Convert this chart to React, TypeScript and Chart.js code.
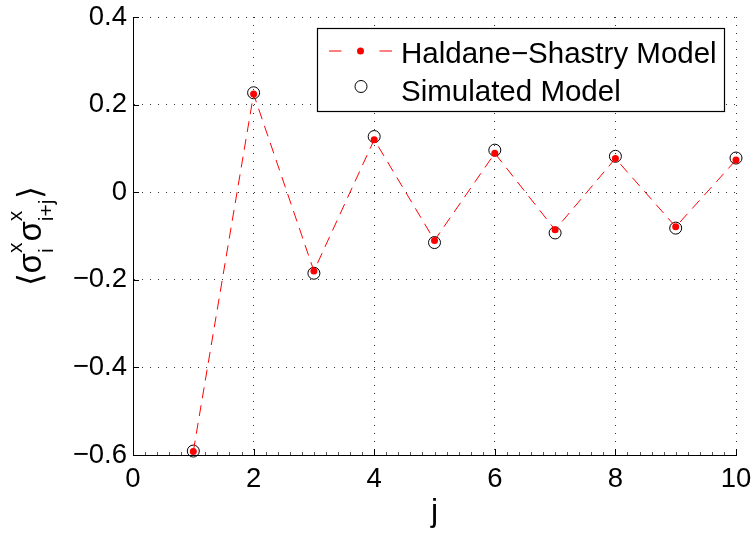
import React, { useEffect, useRef } from 'react';
import { Chart, registerables } from 'chart.js';

Chart.register(...registerables);

// ---- data ----
const jValues = [1, 2, 3, 4, 5, 6, 7, 8, 9, 10];
const haldaneShastry = [-0.592, 0.224, -0.180, 0.120, -0.110, 0.089, -0.086, 0.077, -0.079, 0.0735];
const simulated = [-0.591, 0.227, -0.185, 0.127, -0.115, 0.096, -0.093, 0.082, -0.082, 0.078];
const seriesLabels = ['Haldane\u2212Shastry Model', 'Simulated Model'];

const xTicks = [0, 2, 4, 6, 8, 10];
const xTickLabels = ['0', '2', '4', '6', '8', '10'];
const yTicks = [-0.6, -0.4, -0.2, 0, 0.2, 0.4];
const yTickLabels = ['\u22120.6', '\u22120.4', '\u22120.2', '0', '0.2', '0.4'];
const xTitle = 'j';
// y title: ⟨σ^x_i σ^x_{i+j}⟩
const yTitleParts = [
  { main: '\u27E8' },
  { main: '\u03C3' },
  { sup: 'x', sub: 'i' },
  { main: '\u03C3' },
  { sup: 'x', sub: 'i+j' },
  { main: '\u27E9' },
];

const FONT = '"Liberation Sans", Arial, Helvetica, sans-serif';

const decorPlugin = {
  id: 'decor',
  afterDraw(chart: any) {
    const ctx = chart.ctx as CanvasRenderingContext2D;
    const xs = chart.scales.x;
    const ys = chart.scales.y;
    const area = chart.chartArea;

    // inward tick marks
    ctx.save();
    ctx.strokeStyle = '#000';
    ctx.lineWidth = 1;
    ctx.beginPath();
    for (const v of xTicks) {
      const px = Math.round(xs.getPixelForValue(v)) + 0.5;
      ctx.moveTo(px, area.bottom);
      ctx.lineTo(px, area.bottom - 6);
    }
    for (const v of yTicks) {
      const py = Math.round(ys.getPixelForValue(v)) + 0.5;
      ctx.moveTo(area.left, py);
      ctx.lineTo(area.left + 6, py);
    }
    ctx.stroke();
    ctx.strokeStyle = '#555';
    ctx.beginPath();
    for (let k = 1; k < 50; k++) {
      if (k % 10 === 0) continue;
      const px = Math.round(xs.getPixelForValue(k * 0.2)) + 0.5;
      ctx.moveTo(px, area.bottom);
      ctx.lineTo(px, area.bottom - 3);
    }
    ctx.stroke();
    ctx.restore();

    // x title
    ctx.save();
    ctx.fillStyle = '#000';
    ctx.font = `32px ${FONT}`;
    ctx.textAlign = 'center';
    ctx.textBaseline = 'alphabetic';
    ctx.fillText(xTitle, (area.left + area.right) / 2, 521);
    ctx.restore();

    // y title
    ctx.save();
    ctx.fillStyle = '#000';
    const mainFont = `33px ${FONT}`;
    const scriptFont = `21px ${FONT}`;
    const widths = yTitleParts.map((p: any) => {
      if (p.main) {
        ctx.font = mainFont;
        return ctx.measureText(p.main).width;
      }
      ctx.font = scriptFont;
      return Math.max(ctx.measureText(p.sup).width, ctx.measureText(p.sub).width) + 1;
    });
    const total = widths.reduce((a, b) => a + b, 0);
    ctx.translate(41, (area.top + area.bottom) / 2);
    ctx.rotate(-Math.PI / 2);
    ctx.textBaseline = 'alphabetic';
    ctx.textAlign = 'left';
    let cx = -total / 2;
    yTitleParts.forEach((p: any, i: number) => {
      if (p.main) {
        ctx.font = mainFont;
        ctx.fillText(p.main, cx, 0);
      } else {
        ctx.font = scriptFont;
        ctx.fillText(p.sup, cx, -19);
        ctx.fillText(p.sub, cx, 12);
      }
      cx += widths[i];
    });
    ctx.restore();

    // legend
    ctx.save();
    const lx = 317, ly = 28, lw = 407, lh = 83;
    ctx.fillStyle = '#fff';
    ctx.fillRect(lx, ly, lw, lh);
    ctx.strokeStyle = '#000';
    ctx.lineWidth = 1.2;
    ctx.strokeRect(lx + 0.5, ly + 0.5, lw, lh);
    // row 1
    ctx.strokeStyle = '#ff0000';
    ctx.lineWidth = 1;
    ctx.setLineDash([12.5, 38]);
    ctx.beginPath();
    ctx.moveTo(329, 51);
    ctx.lineTo(392, 51);
    ctx.stroke();
    ctx.setLineDash([]);
    ctx.fillStyle = '#ff0000';
    ctx.beginPath();
    ctx.arc(360.5, 51, 3.5, 0, Math.PI * 2);
    ctx.fill();
    // row 2
    ctx.strokeStyle = '#000';
    ctx.beginPath();
    ctx.arc(361, 86.5, 6, 0, Math.PI * 2);
    ctx.stroke();
    ctx.fillStyle = '#000';
    ctx.font = `29.5px ${FONT}`;
    ctx.textAlign = 'left';
    ctx.textBaseline = 'alphabetic';
    ctx.fillText(chart.data.datasets[0].label, 401, 62.5);
    ctx.fillText(chart.data.datasets[1].label, 401, 100.5);
    ctx.restore();
  },
};

export default function App() {
  const ref = useRef<HTMLCanvasElement | null>(null);
  useEffect(() => {
    if (!ref.current) return;
    const chart = new Chart(ref.current, {
      type: 'line',
      data: {
        datasets: [
          {
            label: seriesLabels[0],
            data: jValues.map((x, i) => ({ x, y: haldaneShastry[i] })),
            borderColor: '#ff0000',
            borderWidth: 1,
            borderDash: [11, 7],
            backgroundColor: '#ff0000',
            pointRadius: 3.5,
            pointBorderWidth: 0,
            pointBackgroundColor: '#ff0000',
            tension: 0,
            fill: false,
            clip: false,
          },
          {
            label: seriesLabels[1],
            data: jValues.map((x, i) => ({ x, y: simulated[i] })),
            showLine: false,
            borderColor: '#000',
            pointRadius: 6,
            pointBorderWidth: 1,
            pointBorderColor: '#000',
            pointBackgroundColor: 'rgba(0,0,0,0)',
            fill: false,
            clip: false,
          },
        ],
      },
      options: {
        responsive: false,
        animation: false,
        devicePixelRatio: 1,
        layout: { padding: { left: 0, top: 17, right: 19, bottom: 0 } },
        plugins: { legend: { display: false }, tooltip: { enabled: false }, title: { display: false } },
        scales: {
          x: {
            type: 'linear',
            min: 0,
            max: 10,
            afterBuildTicks: (s: any) => { s.ticks = xTicks.map((v) => ({ value: v })); },
            afterFit: (s: any) => { s.height = 78; s.paddingLeft = 0; s.paddingRight = 0; },
            ticks: {
              autoSkip: false,
              maxRotation: 0,
              padding: 8,
              color: '#000',
              font: { family: FONT, size: 27.5 },
              callback: (_v: any, i: number) => xTickLabels[i],
            },
            grid: { color: '#333', lineWidth: 1, drawTicks: false },
            border: { display: true, color: '#000', width: 1, dash: [1, 7] },
          },
          y: {
            type: 'linear',
            min: -0.6,
            max: 0.4,
            afterBuildTicks: (s: any) => { s.ticks = yTicks.map((v) => ({ value: v })); },
            afterFit: (s: any) => { s.width = 133; s.paddingTop = 0; s.paddingBottom = 0; },
            ticks: {
              autoSkip: false,
              padding: 6,
              color: '#000',
              font: { family: FONT, size: 27.5 },
              callback: (_v: any, i: number) => yTickLabels[i],
            },
            grid: { color: '#333', lineWidth: 1, drawTicks: false },
            border: { display: true, color: '#000', width: 1, dash: [1, 7] },
          },
        },
      },
      plugins: [decorPlugin],
    });
    return () => chart.destroy();
  }, []);
  return (
    <div style={{ position: 'absolute', left: 0, top: 0, width: 755, height: 533, background: '#fff' }}>
      <canvas ref={ref} width={755} height={533} style={{ display: 'block' }} />
    </div>
  );
}
